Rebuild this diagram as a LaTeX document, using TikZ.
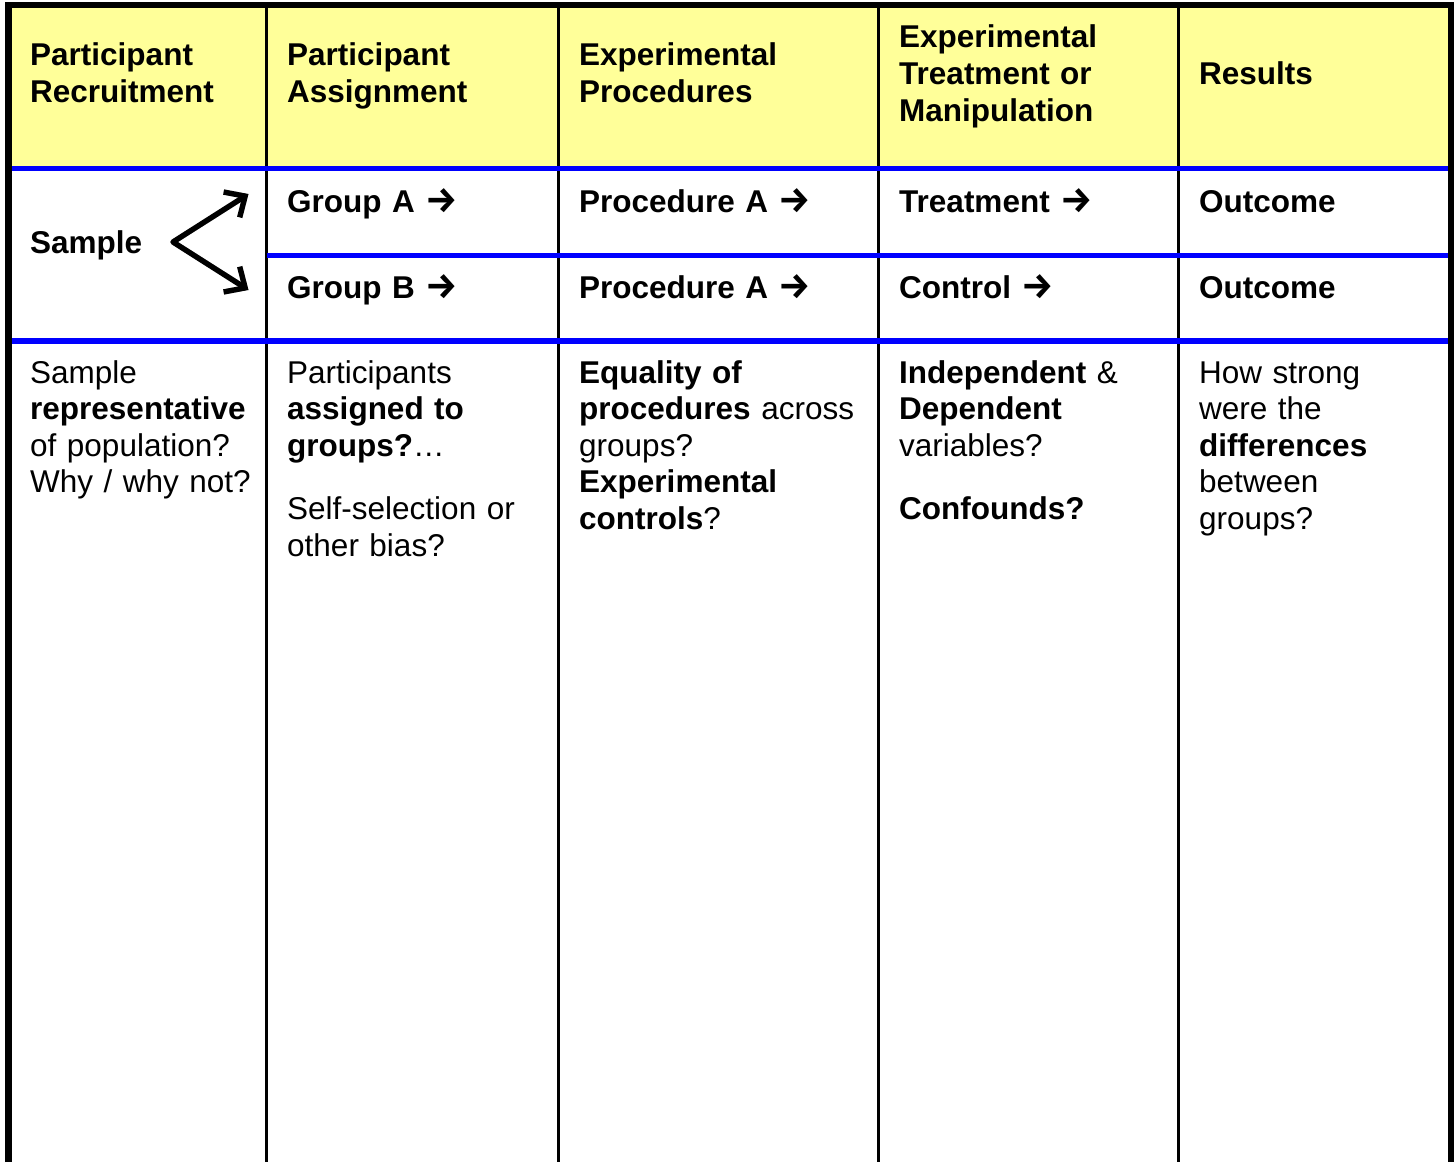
\documentclass[tikz,border=0pt]{standalone}
\usepackage{fontspec}
\setmainfont{Liberation Sans}
\newfontfamily\arrowfont{Fira Sans}
\newcommand{\myarrow}{{\arrowfont\bfseries\fontsize{36}{36}\selectfont →}}
\usetikzlibrary{arrows.meta}
\definecolor{hdrYellow}{RGB}{255,255,153}
\definecolor{ruleBlue}{RGB}{0,0,255}
\begin{document}
\begin{tikzpicture}[x=1pt,y=-1pt,
  txt/.style={inner sep=0pt, anchor=base west, text width=310pt, align=left,
              font=\fontsize{31.5}{36.5}\selectfont},
  hdr/.style={txt, font=\fontsize{31.5}{37}\selectfont\bfseries},
  rowtxt/.style={txt, font=\fontsize{31.5}{36.5}\selectfont\bfseries},
  colrule/.style={line width=3.3pt, black},
  bluerule/.style={line width=5.5pt, ruleBlue},
  frame/.style={line width=6.5pt, black, line join=miter},
  forkarrow/.style={line width=5.4pt, line join=round,
     {Straight Barb[length=16pt,width=30pt]}-{Straight Barb[length=16pt,width=30pt]}}
]
\useasboundingbox (0,0) rectangle (1455,1162);
% header background
\fill[hdrYellow] (8,5) rectangle (1451,168);
% column rules
\foreach \x in {266.5,558.3,878.3,1178.3}
  \draw[colrule] (\x,5) -- (\x,1162);
% blue rules
\draw[bluerule] (8,168.7) -- (1451,168.7);
\draw[bluerule, line width=5pt] (266.5,255.3) -- (1451,255.3);
\draw[bluerule] (8,341) -- (1451,341);
% outer frame
\draw[frame] (8.5,1162) -- (8.5,5) -- (1451,5) -- (1451,1162);

% headers
\node[hdr] (h1) at (30,65) {Participant\\Recruitment};
\node[hdr] (h2) at (287,65) {Participant\\Assignment};
\node[hdr] (h3) at (579,65) {Experimental\\Procedures};
\node[hdr] (h4) at (899,47) {Experimental\\Treatment or\\Manipulation};
\node[hdr] (h5) at (1199,84) {Results};

% group rows
\node[rowtxt] (sample) at (30,253) {Sample};
\node[rowtxt] (gA) at (287,212) {Group A \myarrow};
\node[rowtxt] (gB) at (287,298) {Group B \myarrow};
\node[rowtxt] (pA) at (579,212) {Procedure A \myarrow};
\node[rowtxt] (pB) at (579,298) {Procedure A \myarrow};
\node[rowtxt] (tr) at (899,212) {Treatment \myarrow};
\node[rowtxt] (ct) at (899,298) {Control \myarrow};
\node[rowtxt] (oA) at (1199,212) {Outcome};
\node[rowtxt] (oB) at (1199,298) {Outcome};

% fork arrows
\coordinate (fork) at (173,242);
\coordinate (tipA) at (248.5,194);
\coordinate (tipB) at (248.5,290);
\draw[forkarrow, black!18, shift={(2.5,3)}] (tipA) -- (fork) -- (tipB);
\draw[forkarrow] (tipA) -- (fork) -- (tipB);

% body
\node[txt] (b1) at (30,383) {Sample\\\textbf{representative}\\of population?\\Why / why not?};
\node[txt] (b2) at (287,383) {Participants\\\textbf{assigned to}\\\textbf{groups?}…\\[27pt]Self-selection or\\other bias?};
\node[txt] (b3) at (579,383) {\textbf{Equality of}\\\textbf{procedures} across\\groups?\\\textbf{Experimental}\\\textbf{controls}?};
\node[txt] (b4) at (899,383) {\textbf{Independent} \&\\\textbf{Dependent}\\variables?\\[27pt]\textbf{Confounds?}};
\node[txt] (b5) at (1199,383) {How strong\\were the\\\textbf{differences}\\between\\groups?};
\end{tikzpicture}
\end{document}
